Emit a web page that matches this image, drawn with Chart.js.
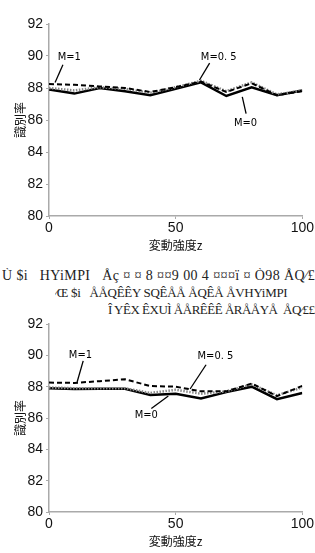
<!DOCTYPE html>
<html>
<head>
  <meta charset="utf-8">
  <title>識別率</title>
  <script src="https://cdn.jsdelivr.net/npm/chart.js@4.4.0/dist/chart.umd.min.js"></script>
  <style>
    body { margin: 0; background: #ffffff; width: 315px; height: 553px; position: relative; overflow: hidden; }
    canvas { position: absolute; left: 0; }
    .garbled { position: absolute; font-family: 'Liberation Serif', serif; font-size: 13px; letter-spacing: -0.3px; color: #222; white-space: nowrap; overflow: hidden; }
  </style>
</head>
<body>
  <canvas id="chartTop" width="315" height="257" style="top:0px"></canvas>
  <div class="garbled" style="top:268px; left:2px; width:313px; font-size:14px; letter-spacing:0.4px;">Ù $i&nbsp;&nbsp; HYiMPI&nbsp;&nbsp; Åç ¤ ¤ 8 ¤¤9 00 4 ¤¤¤ï ¤ Ò98 ÅQ⁄££</div>
  <div class="garbled" style="top:285px; left:55px; width:260px;">⁄Œ $i&nbsp;&nbsp; ÅÅQÊÊY SQÊÅÅ ÅQÊÅ ÅVHYiMPI</div>
  <div class="garbled" style="top:302px; left:108px; width:207px; letter-spacing:-0.5px;">Î YÊX ÊXUÌ ÅÅRÊÊÊ ÅRÅÅYÅ&nbsp; ÅQ⁄££$£</div>
  <canvas id="chartBottom" width="315" height="253" style="top:300px"></canvas>

  <script>
    // 変動強度z
    const zValues = [0, 10, 20, 30, 40, 50, 60, 70, 80, 90, 100];
    const yTicks = [80, 82, 84, 86, 88, 90, 92];
    const xTicks = [0, 50, 100];

    // upper chart
    const topM0 = [87.9, 87.65, 88.0, 87.8, 87.55, 87.95, 88.35, 87.5, 88.05, 87.55, 87.85];
    const topM05 = [88.0, 87.85, 88.05, 87.95, 87.7, 88.05, 88.45, 87.8, 88.35, 87.6, 87.85];
    const topM1 = [88.25, 88.2, 88.1, 88.0, 87.75, 88.05, 88.4, 87.75, 88.3, 87.55, 87.8];

    // lower chart
    const botM0 = [87.9, 87.85, 87.87, 87.87, 87.47, 87.55, 87.25, 87.65, 88.0, 87.2, 87.6];
    const botM05 = [87.95, 87.9, 87.9, 87.9, 87.6, 87.8, 87.55, 87.7, 88.15, 87.45, 87.95];
    const botM1 = [88.26, 88.24, 88.35, 88.47, 88.04, 88.0, 87.7, 87.7, 88.2, 87.4, 88.05];

    const tickFont = { family: "'Liberation Sans Narrow', 'Liberation Sans', Arial, sans-serif", size: 14 };
    const cjkFont = { family: "'Noto Sans CJK JP', sans-serif", size: 12 };

    // labels "M=..." with a leader line, given in data coordinates
    const calloutPlugin = {
      id: 'callouts',
      afterDatasetsDraw(chart, args, opts) {
        const ctx = chart.ctx;
        const xs = chart.scales.x, ys = chart.scales.y;
        ctx.save();
        ctx.strokeStyle = '#000';
        ctx.lineWidth = 1.3;
        ctx.fillStyle = '#000';
        ctx.font = "11px 'DejaVu Sans Condensed', 'Liberation Sans Narrow', sans-serif";
        ctx.textAlign = 'center';
        ctx.textBaseline = 'middle';
        (opts.items || []).forEach(it => {
          ctx.fillText(it.text, xs.getPixelForValue(it.tx), ys.getPixelForValue(it.ty));
          ctx.beginPath();
          ctx.moveTo(xs.getPixelForValue(it.from[0]), ys.getPixelForValue(it.from[1]));
          ctx.lineTo(xs.getPixelForValue(it.to[0]), ys.getPixelForValue(it.to[1]));
          ctx.stroke();
        });
        ctx.restore();
      }
    };

    function makeChart(id, m0, m05, m1, areaBottom, callouts) {
      const ctx = document.getElementById(id).getContext('2d');
      const h = document.getElementById(id).height;
      return new Chart(ctx, {
        type: 'line',
        data: {
          labels: zValues,
          datasets: [
            { label: 'M=1', data: zValues.map((z, i) => ({ x: z, y: m1[i] })), borderColor: '#000', borderWidth: 2, borderDash: [5, 3], pointRadius: 0, fill: false },
            { label: 'M=0.5', data: zValues.map((z, i) => ({ x: z, y: m05[i] })), borderColor: '#888', borderWidth: 2.5, borderDash: [1.5, 1.5], pointRadius: 0, fill: false },
            { label: 'M=0', data: zValues.map((z, i) => ({ x: z, y: m0[i] })), borderColor: '#000', borderWidth: 2.5, pointRadius: 0, fill: false }
          ]
        },
        options: {
          responsive: false,
          animation: false,
          layout: { padding: { left: 0, right: 12, top: 24, bottom: 0 } },
          plugins: {
            legend: { display: false },
            tooltip: { enabled: false },
            callouts: { items: callouts }
          },
          scales: {
            x: {
              type: 'linear', min: 0, max: 100,
              afterBuildTicks: s => { s.ticks = xTicks.map(v => ({ value: v })); },
              afterFit: s => { s.height = h - areaBottom; },
              border: { color: '#aaa', width: 1.5 },
              grid: { drawOnChartArea: false, tickLength: 3, color: '#aaa' },
              ticks: { font: tickFont, color: '#111', padding: 1, maxRotation: 0 },
              title: { display: true, text: '変動強度z', font: cjkFont, color: '#111', padding: { top: 0, bottom: 4 } }
            },
            y: {
              min: 80, max: 92,
              afterBuildTicks: s => { s.ticks = yTicks.map(v => ({ value: v })); },
              afterFit: s => { s.width = 49; },
              border: { color: '#aaa', width: 1.5 },
              grid: { drawOnChartArea: false, tickLength: 3, color: '#aaa' },
              ticks: { font: tickFont, color: '#111', padding: 3 },
              title: { display: true, text: '識別率', font: cjkFont, color: '#111', padding: { top: 13, bottom: 0 } }
            }
          }
        },
        plugins: [calloutPlugin]
      });
    }

    makeChart('chartTop', topM0, topM05, topM1, 216, [
      { text: 'M=1', tx: 8, ty: 89.95, from: [5.5, 89.45], to: [2.4, 88.35] },
      { text: 'M=0. 5', tx: 67, ty: 89.95, from: [63.4, 89.55], to: [59.4, 88.5] },
      { text: 'M=0', tx: 77.6, ty: 85.8, from: [76.3, 87.45], to: [77.8, 86.4] }
    ]);

    makeChart('chartBottom', botM0, botM05, botM1, 212, [
      { text: 'M=1', tx: 12.4, ty: 90.0, from: [13.5, 89.65], to: [11.1, 88.3] },
      { text: 'M=0. 5', tx: 65.7, ty: 89.95, from: [62, 89.4], to: [55.7, 87.85] },
      { text: 'M=0', tx: 38.4, ty: 86.2, from: [40.4, 86.6], to: [47.1, 87.4] }
    ]);
  </script>
</body>
</html>
